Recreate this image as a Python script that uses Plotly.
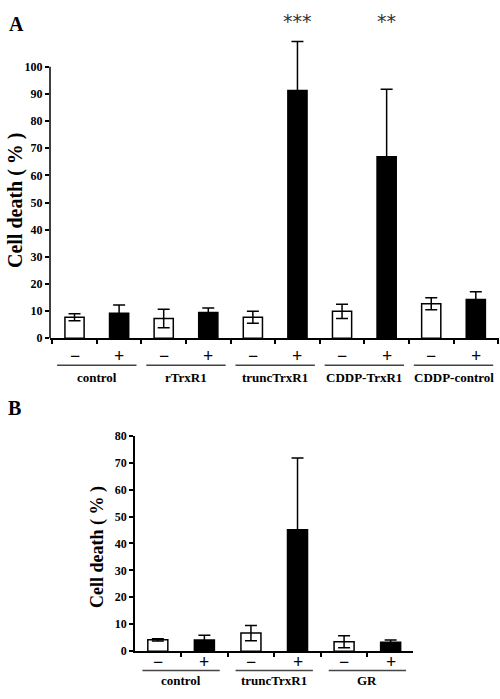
import plotly.graph_objects as go

# Panel A data
a_groups = ["control", "rTrxR1", "truncTrxR1", "CDDP-TrxR1", "CDDP-control"]
a_signs = ["−", "+"] * 5
a_values = [7.7, 9.2, 7.3, 9.5, 7.7, 91.3, 9.9, 66.9, 12.7, 14.3]
a_errors = [1.3, 3.0, 3.4, 1.6, 2.2, 18.0, 2.6, 24.8, 2.2, 2.8]
a_stars = ["", "", "", "", "", "***", "", "**", "", ""]
a_yticks = [0, 10, 20, 30, 40, 50, 60, 70, 80, 90, 100]

# Panel B data
b_groups = ["control", "truncTrxR1", "GR"]
b_signs = ["−", "+"] * 3
b_values = [4.2, 4.1, 6.7, 45.1, 3.5, 3.3]
b_errors = [0.4, 1.8, 2.8, 26.6, 2.2, 0.8]
b_yticks = [0, 10, 20, 30, 40, 50, 60, 70, 80]

H = 699
FONT = "Liberation Serif"
fill = ["white", "black"]

fig = go.Figure()


def add_panel(values, errors, xa, ya):
    n = len(values)
    fig.add_trace(go.Bar(
        x=list(range(n)), y=values, width=0.43,
        marker=dict(color=[fill[i % 2] for i in range(n)],
                    line=dict(color="black", width=1.5)),
        error_y=dict(type="data", array=errors, color="black",
                     thickness=1.5, width=6),
        xaxis=xa, yaxis=ya, showlegend=False, hoverinfo="skip"))


add_panel(a_values, a_errors, "x", "y")
add_panel(b_values, b_errors, "x2", "y2")

line_common = dict(linecolor="black", linewidth=1.5,
                   ticks="outside", tickcolor="black", ticklen=4, tickwidth=1.5,
                   showgrid=False, zeroline=False)
tick_font = dict(family=FONT, size=12, color="black", weight="bold")

# panel A: room above 100 so the tall error bar is not cut, axis line drawn to 100 only
a_top = 61 - 27.7
fig.update_layout(
    width=500, height=H, margin=dict(l=0, r=0, t=0, b=0),
    plot_bgcolor="white", paper_bgcolor="white",
    xaxis=dict(domain=[0.1, 0.998], range=[-0.55, 9.52], showline=True,
               tickvals=[i - 0.5 for i in range(11)], showticklabels=False,
               **line_common),
    yaxis=dict(domain=[(H - 338) / H, (H - a_top) / H], range=[0, 110],
               showline=False, tickvals=a_yticks, anchor="x", tickfont=tick_font,
               **line_common),
    xaxis2=dict(domain=[0.27, 0.826], range=[-0.49, 5.48], anchor="y2",
                showline=True, tickvals=[i - 0.5 for i in range(7)],
                showticklabels=False, **line_common),
    yaxis2=dict(domain=[(H - 657.3) / H, (H - 437.5) / H], range=[0, 80],
                showline=True, tickvals=b_yticks, anchor="x2", tickfont=tick_font,
                **line_common),
)
fig.add_shape(type="line", xref="paper", yref="y", x0=0.1, x1=0.1,
              y0=0, y1=a_yticks[-1], line=dict(color="black", width=1.5))


def py(pix):
    return (H - pix) / H


def note(x, y, text, font, xref="paper", **kw):
    fig.add_annotation(x=x, y=y, xref=xref, yref="paper", text=text,
                       showarrow=False, xanchor="center", yanchor="middle",
                       font=font, **kw)


def add_labels(signs, groups, xref, sign_y, line_y, group_y, half):
    for i, s in enumerate(signs):
        note(i, py(sign_y), s,
             dict(family=FONT, size=18, color="black", weight="bold"), xref=xref)
    for g, name in enumerate(groups):
        fig.add_shape(type="line", xref=xref, yref="paper",
                      x0=2 * g - half, x1=2 * g + 1 + half,
                      y0=py(line_y), y1=py(line_y),
                      line=dict(color="#444", width=1.5))
        note(2 * g + 0.5, py(group_y), name,
             dict(family=FONT, size=13, color="black", weight="bold"), xref=xref)


add_labels(a_signs, a_groups, "x", 356, 365.5, 378, 0.39)
add_labels(b_signs, b_groups, "x2", 668, 677, 687, 0.33)

for i, s in enumerate(a_stars):
    if s:
        note(i, py(14), s, dict(family="DejaVu Sans", size=19, color="#333"), xref="x")

# axis titles
note(15 / 500, py(197), "Cell death ( % )",
     dict(family=FONT, size=20, color="black", weight="bold"), textangle=-90)
note(98 / 500, py(551), "Cell death ( % )",
     dict(family=FONT, size=18, color="black", weight="bold"), textangle=-90)

# panel letters
note(16 / 500, py(17), "A", dict(family=FONT, size=20, color="black", weight="bold"))
note(14 / 500, py(409), "B", dict(family=FONT, size=20, color="black", weight="bold"))

fig.write_html("out.html", config={"displayModeBar": False},
               post_script="document.body.style.margin='0';")
